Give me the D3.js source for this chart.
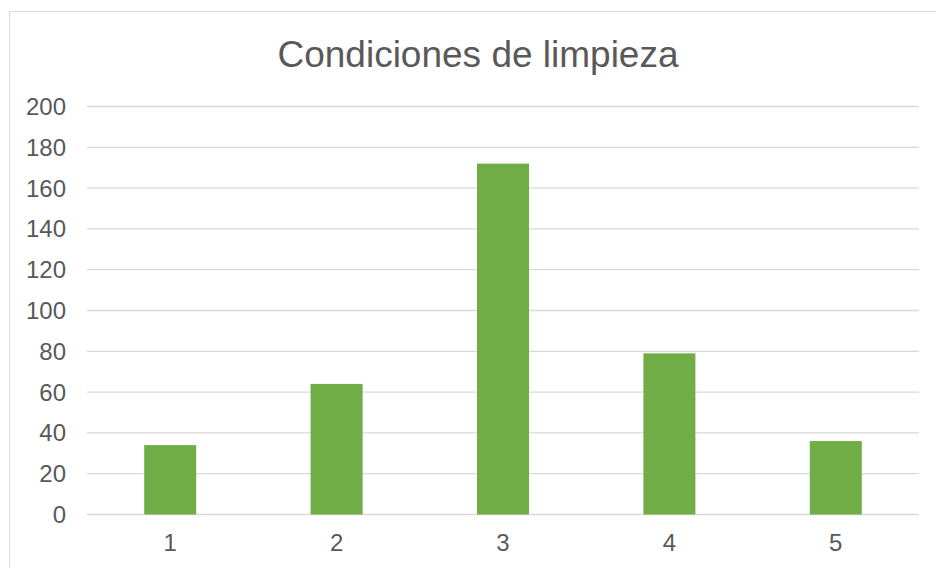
<!DOCTYPE html>
<html>
<head>
<meta charset="utf-8">
<script src="https://cdn.jsdelivr.net/npm/d3@7"></script>
<style>
  body { margin: 0; background: #fff; }
  svg { font-family: "Liberation Sans", Arial, sans-serif; }
</style>
</head>
<body>
<svg width="936" height="568"></svg>
<script>
const categories = ['1', '2', '3', '4', '5'];
const values = [34, 64, 172, 79, 36];
const yTicks = [0, 20, 40, 60, 80, 100, 120, 140, 160, 180, 200];
const title = 'Condiciones de limpieza';

const svg = d3.select('svg');

// chart frame (right and bottom edges run off the picture)
svg.append('rect')
  .attr('x', 9.5)
  .attr('y', 11.5)
  .attr('width', 940)
  .attr('height', 600)
  .style('fill', '#fff')
  .style('stroke', '#d9d9d9');

const x = d3.scaleBand()
  .domain(categories)
  .range([87, 919])
  .paddingInner(0.6875)
  .paddingOuter(0.34375);

const y = d3.scaleLinear()
  .domain([0, 200])
  .range([514.5, 106.5]);

// gridlines
svg.append('g')
  .selectAll('line')
  .data(yTicks)
  .join('line')
  .attr('x1', 87)
  .attr('x2', 919)
  .attr('y1', d => y(d))
  .attr('y2', d => y(d))
  .style('stroke', '#d9d9d9')
  .style('stroke-width', 1.3);

// y labels
svg.append('g')
  .selectAll('text')
  .data(yTicks)
  .join('text')
  .text(d => d)
  .attr('x', 66)
  .attr('y', d => y(d))
  .attr('dy', '0.35em')
  .style('text-anchor', 'end')
  .style('font-size', '24px')
  .style('fill', '#595959');

// bars
svg.append('g')
  .selectAll('rect')
  .data(values)
  .join('rect')
  .attr('x', (d, i) => x(categories[i]))
  .attr('width', x.bandwidth())
  .attr('y', d => y(d))
  .attr('height', d => y(0) - y(d))
  .style('fill', '#70ad47');

// x labels
svg.append('g')
  .selectAll('text')
  .data(categories)
  .join('text')
  .text(d => d)
  .attr('x', d => x(d) + x.bandwidth() / 2)
  .attr('y', 551)
  .style('text-anchor', 'middle')
  .style('font-size', '24px')
  .style('fill', '#595959');

svg.append('text')
  .text(title)
  .attr('x', 478)
  .attr('y', 67)
  .style('text-anchor', 'middle')
  .style('font-size', '37px')
  .style('fill', '#595959');
</script>
</body>
</html>
